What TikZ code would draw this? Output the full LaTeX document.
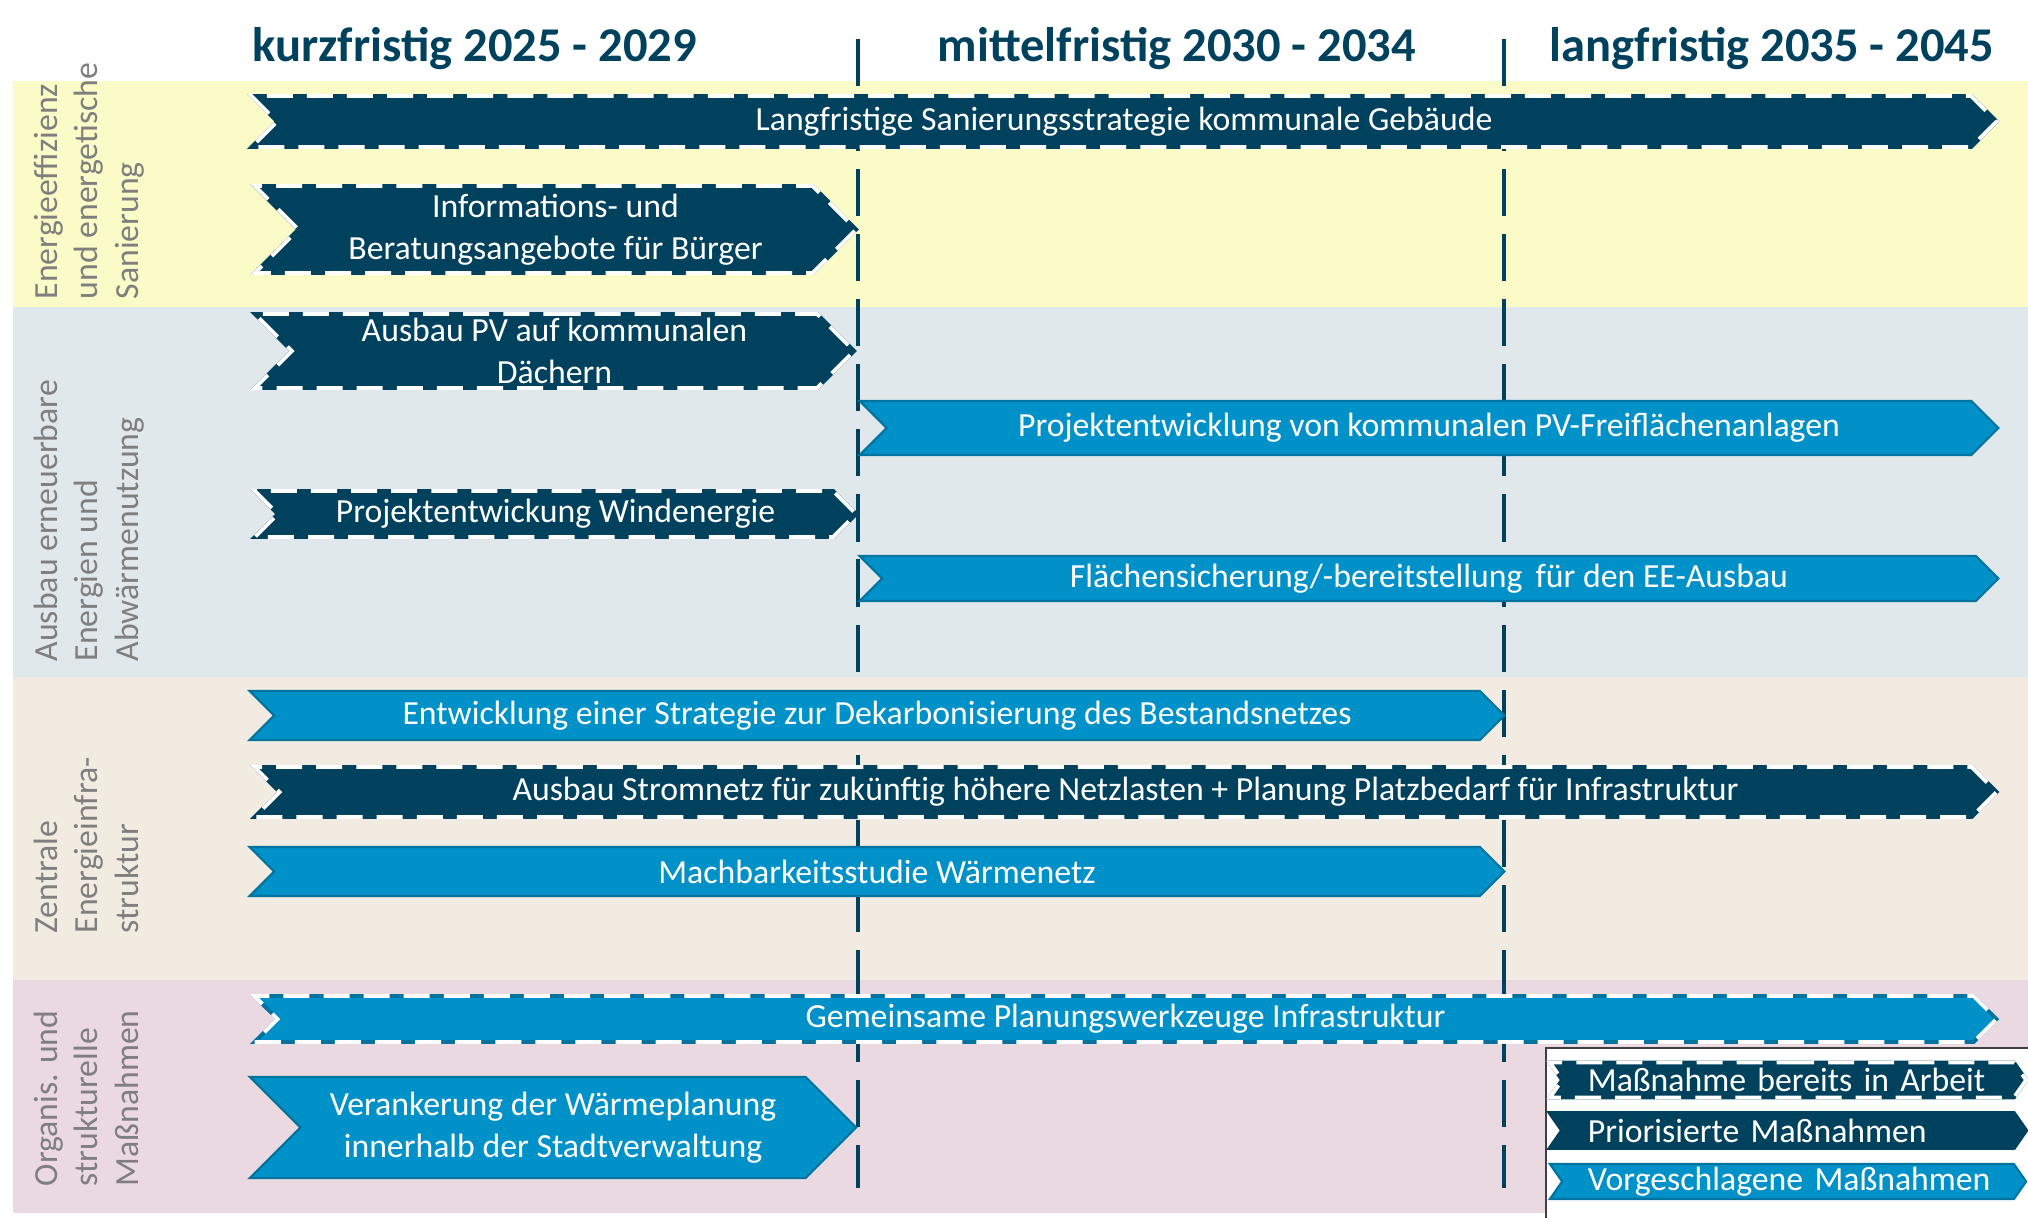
\documentclass[tikz,border=0pt]{standalone}
\usepackage{fontspec}
\setmainfont{Carlito}
\definecolor{navyfill}{HTML}{00425E}
\definecolor{bluefill}{HTML}{0091C8}
\definecolor{blueedge}{HTML}{00739F}
\definecolor{bandyellow}{HTML}{FBFBC7}
\definecolor{bandgrey}{HTML}{E1E8EB}
\definecolor{bandbeige}{HTML}{F2EBE2}
\definecolor{bandpink}{HTML}{EBD9E2}
\definecolor{labelgrey}{HTML}{7F7F7F}
\usetikzlibrary{shapes.symbols}

\begin{document}
\begin{tikzpicture}[x=0.01cm, y=-0.01cm,
  band/.style={fill=#1, draw=none},
  rowlabel/.style={rotate=90, anchor=north west, align=left, inner sep=0pt,
    text=labelgrey, font=\fontsize{9.6}{11.6}\selectfont},
  period/.style={anchor=base, text=navyfill, font=\bfseries\fontsize{13.8}{16}\selectfont},
  milestone/.style={draw=navyfill, line width=1.15pt, dash pattern=on 13.4pt off 5.1pt},
  chevron/.style={signal, signal from=west, signal to=east, signal pointer angle=90,
    inner sep=0pt, text=white, align=center, font=\fontsize{9.6}{11.8}\selectfont},
  prio/.style={chevron, fill=navyfill, draw=navyfill, line width=1.1pt},
  vorschlag/.style={chevron, fill=bluefill, draw=blueedge, line width=0.6pt},
  inarbeit/.style={line width=1.1pt,
    postaction={draw=white, line width=1.1pt, dash pattern=on 7.4pt off 4pt}},
  legchevron/.style={signal pointer angle=110, minimum width=4.76cm, minimum height=0.35cm,
    text width=4cm, align=left},
]
  \useasboundingbox (0,0) rectangle (2028,1217);
  \clip (0,0) rectangle (2028,1217);

  % Handlungsfelder
  \fill[band=bandyellow] (13,81) rectangle (2028,307);
  \fill[band=bandgrey] (13,307) rectangle (2028,677);
  \fill[band=bandbeige] (13,677) rectangle (2028,980);
  \fill[band=bandpink] (13,980) rectangle (2028,1213);

  \node[rowlabel] (effizienz) at (33,300) {Energieeffizienz\\und energetische\\Sanierung};
  \node[rowlabel] (erneuerbar) at (33,662) {Ausbau erneuerbare\\Energien und\\Abwärmenutzung};
  \node[rowlabel] (infra) at (33,934) {Zentrale\\Energieinfra-\\struktur};
  \node[rowlabel] (organis) at (33,1187) {Organis. und\\strukturelle\\Maßnahmen};

  % Zeitraeume
  \node[period] (kurz) at (475,61) {kurzfristig 2025 - 2029};
  \node[period] (mittel) at (1177,61) {mittelfristig 2030 - 2034};
  \node[period] (lang) at (1772,61) {langfristig 2035 - 2045};
  \draw[milestone] (858,39) -- (858,1188);
  \draw[milestone] (1504,39) -- (1504,1188);

  % Massnahmen
  \node[prio, inarbeit, minimum width=17.44cm, minimum height=0.51cm] (sanierung) at (1124,121.5)
    {Langfristige Sanierungsstrategie kommunale Gebäude};
  \node[prio, inarbeit, minimum width=6.01cm, minimum height=0.87cm] (beratung) at (555.5,229.5)
    {Informations- und\\Beratungsangebote für Bürger};
  \node[prio, inarbeit, minimum width=5.99cm, minimum height=0.74cm] (pvdach) at (554.5,351)
    {Ausbau PV auf kommunalen\\Dächern};
  \node[vorschlag, minimum width=11.38cm, minimum height=0.54cm] (pvfrei) at (1429,428)
    {Projektentwicklung von kommunalen PV-Freiflächenanlagen};
  \node[prio, inarbeit, minimum width=6.01cm, minimum height=0.46cm] (wind) at (555.5,514)
    {Projektentwickung Windenergie};
  \node[vorschlag, minimum width=11.38cm, minimum height=0.45cm] (flaeche) at (1429,578.5)
    {Flächensicherung/-bereitstellung\, für den EE-Ausbau};
  \node[vorschlag, minimum width=12.54cm, minimum height=0.49cm] (dekarb) at (877,715.5)
    {Entwicklung einer Strategie zur Dekarbonisierung des Bestandsnetzes};
  \node[prio, inarbeit, minimum width=17.41cm, minimum height=0.50cm] (stromnetz) at (1125.5,792)
    {Ausbau Stromnetz für zukünftig höhere Netzlasten + Planung Platzbedarf für Infrastruktur};
  \node[vorschlag, minimum width=12.54cm, minimum height=0.49cm] (waermenetz) at (877,871.5)
    {Machbarkeitsstudie Wärmenetz};
  \node[vorschlag, inarbeit, minimum width=17.41cm, minimum height=0.46cm] (werkzeuge) at (1125.5,1019)
    {Gemeinsame Planungswerkzeuge Infrastruktur};
  \node[vorschlag, minimum width=6.06cm, minimum height=1.01cm] (verankerung) at (553,1127.5)
    {Verankerung der Wärmeplanung\\innerhalb der Stadtverwaltung};

  % Legende
  \draw[draw=black!75, line width=0.8pt, fill=white] (1546,1048) rectangle (2060,1240);
  \node[prio, inarbeit, legchevron] (legarbeit) at (1788,1080) {\mbox{Maßnahme bereits in Arbeit}};
  \node[prio, legchevron] (legprio) at (1788,1130.5) {\mbox{Priorisierte Maßnahmen}};
  \node[vorschlag, legchevron] (legvorschlag) at (1788,1181.5) {\mbox{Vorgeschlagene Maßnahmen}};
\end{tikzpicture}
\end{document}
